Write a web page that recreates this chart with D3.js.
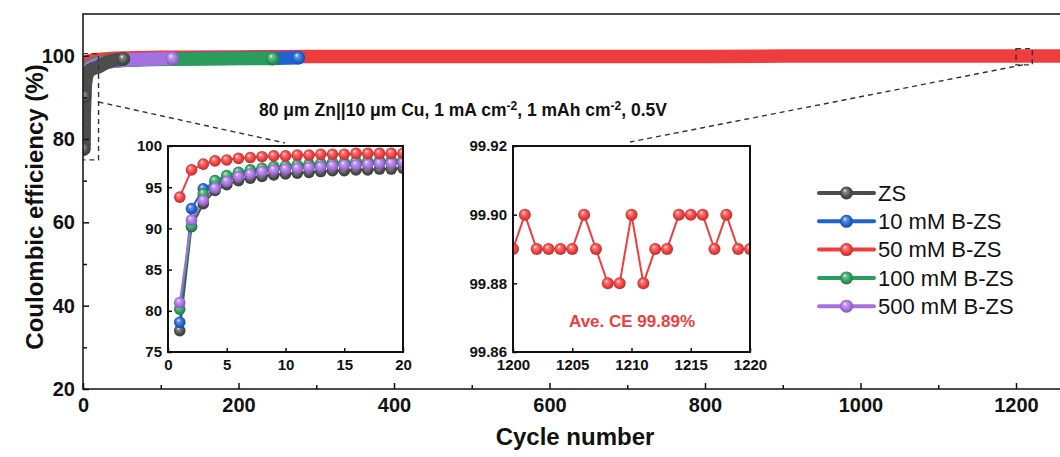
<!DOCTYPE html>
<html>
<head>
<meta charset="utf-8">
<script src="https://cdn.jsdelivr.net/npm/d3@7"></script>
<style>
  body { margin: 0; background: #fff; }
  text { font-family: "Liberation Sans", Arial, sans-serif; }
</style>
</head>
<body>
<svg id="chart" width="1060" height="457"></svg>
<script>
const seriesNames = ['ZS', '10 mM B-ZS', '50 mM B-ZS', '100 mM B-ZS', '500 mM B-ZS'];
const seriesColors = ['#4d4d4d', '#1f63d3', '#ef3d3d', '#2a9d5c', '#a571e0'];

// first 20 cycles (zoomed inset)
const earlyCycles = d3.range(1, 21);
const zsEarly = [77.6, 90.2, 93.0, 94.6, 95.3, 95.8, 96.1, 96.3, 96.5, 96.6, 96.7, 96.8, 96.9, 97.0, 97.0, 97.1, 97.1, 97.2, 97.2, 97.3];
const b10Early = [78.6, 92.4, 94.8, 95.6, 96.1, 96.5, 96.8, 97.0, 97.2, 97.3, 97.4, 97.5, 97.6, 97.7, 97.8, 97.8, 97.9, 97.9, 98.0, 98.0];
const b50Early = [93.8, 97.1, 97.8, 98.2, 98.3, 98.5, 98.6, 98.7, 98.8, 98.8, 98.9, 98.9, 99.0, 99.0, 99.0, 99.1, 99.1, 99.1, 99.1, 99.1];
const b100Early = [80.2, 90.3, 94.2, 95.8, 96.4, 96.8, 97.1, 97.3, 97.5, 97.6, 97.7, 97.8, 97.9, 98.0, 98.0, 98.1, 98.1, 98.2, 98.2, 98.3];
const b500Early = [81.0, 91.0, 93.4, 94.9, 95.7, 96.3, 96.6, 96.9, 97.1, 97.2, 97.3, 97.4, 97.5, 97.6, 97.7, 97.7, 97.8, 97.9, 97.9, 98.0];

// later cycles
const zsLateCycles = [30, 40, 52];
const zsLate = [98.4, 98.9, 99.2];
const b10LateCycles = [40, 80, 150, 250, 277];
const b10Late = [98.8, 99.1, 99.3, 99.4, 99.5];
const b50LateCycles = [40, 100, 200, 300, 400, 500, 600, 700, 800, 900, 1000, 1100, 1200, 1270];
const b50Late = [99.4, 99.6, 99.7, 99.8, 99.8, 99.8, 99.8, 99.8, 99.8, 99.9, 99.9, 99.9, 99.9, 99.9];
const b100LateCycles = [40, 80, 150, 200, 244];
const b100Late = [98.8, 99.1, 99.2, 99.3, 99.3];
const b500LateCycles = [40, 60, 90, 115];
const b500Late = [98.7, 99.0, 99.2, 99.35];

// cycles 1200-1220 of 50 mM B-ZS
const zoomCycles = d3.range(1200, 1221);
const zoomCE = [99.89, 99.90, 99.89, 99.89, 99.89, 99.89, 99.90, 99.89, 99.88, 99.88, 99.90,
  99.88, 99.89, 99.89, 99.90, 99.90, 99.90, 99.89, 99.90, 99.89, 99.89];

const mainXTicks = [0, 200, 400, 600, 800, 1000, 1200];
const mainYTicks = [20, 40, 60, 80, 100];
const inset1XTicks = [0, 5, 10, 15, 20];
const inset1YTicks = [75, 80, 85, 90, 95, 100];
const inset2XTicks = [1200, 1205, 1210, 1215, 1220];
const inset2YTicks = [99.86, 99.88, 99.90, 99.92];

const earlyAll = [zsEarly, b10Early, b50Early, b100Early, b500Early];
const lateCyclesAll = [zsLateCycles, b10LateCycles, b50LateCycles, b100LateCycles, b500LateCycles];
const lateAll = [zsLate, b10Late, b50Late, b100Late, b500Late];

const series = seriesNames.map((name, i) => ({
  name,
  color: seriesColors[i],
  idx: i,
  early: earlyCycles.map((c, j) => [c, earlyAll[i][j]]),
  all: earlyCycles.map((c, j) => [c, earlyAll[i][j]])
    .concat(lateCyclesAll[i].map((c, j) => [c, lateAll[i][j]]))
}));

const svg = d3.select('#chart');
const defs = svg.append('defs');

seriesColors.forEach((c, i) => {
  const g = defs.append('radialGradient').attr('id', 'gloss' + i)
    .attr('cx', '50%').attr('cy', '50%').attr('r', '55%')
    .attr('fx', '36%').attr('fy', '30%');
  g.append('stop').attr('offset', '0%').attr('stop-color', '#fff');
  g.append('stop').attr('offset', '22%').attr('stop-color', d3.interpolateRgb(c, '#fff')(0.35));
  g.append('stop').attr('offset', '65%').attr('stop-color', c);
  g.append('stop').attr('offset', '100%').attr('stop-color', d3.color(c).darker(0.9));
});

// ---------- main panel ----------
const x = d3.scaleLinear().domain([0, 1300]).range([83, 83 + 1300 * 0.7775]);
const y = d3.scaleLinear().domain([20, 110]).range([389, 14]);

defs.append('clipPath').attr('id', 'mainClip').append('rect')
  .attr('x', x(0)).attr('y', y(110)).attr('width', x(1300) - x(0)).attr('height', y(20) - y(110));

const mainLine = d3.line().x(d => x(d[0])).y(d => y(d[1]));
const mainLayer = svg.append('g').attr('clip-path', 'url(#mainClip)');

// 50 mM at the back, ZS on top
[2, 1, 3, 4, 0].forEach(i => {
  const s = series[i];
  mainLayer.append('path')
    .datum(s.all)
    .attr('d', mainLine)
    .attr('fill', 'none')
    .attr('stroke', s.color)
    .attr('stroke-width', 13.5)
    .attr('stroke-linecap', 'round')
    .attr('stroke-linejoin', 'round');
  const shown = [s.all[0], s.all[1], s.all[s.all.length - 1]];
  mainLayer.selectAll(null).data(shown).enter().append('circle')
    .attr('cx', d => x(d[0]))
    .attr('cy', d => y(d[1]))
    .attr('r', 6.8)
    .attr('fill', `url(#gloss${i})`);
});

svg.append('rect')
  .attr('x', x(0)).attr('y', y(110))
  .attr('width', x(1300) - x(0)).attr('height', y(20) - y(110))
  .attr('fill', 'none').attr('stroke', '#111').attr('stroke-width', 1.5);

svg.append('g').attr('transform', `translate(0,${y(20)})`)
  .call(d3.axisBottom(x).tickValues(mainXTicks).tickSizeInner(-6).tickSizeOuter(0)
    .tickPadding(9).tickFormat(d3.format('d')));
svg.append('g').attr('transform', `translate(0,${y(20)})`)
  .call(d3.axisBottom(x).tickValues(d3.range(100, 1300, 200)).tickSizeInner(-4).tickSizeOuter(0).tickFormat(''));
svg.append('g').attr('transform', `translate(${x(0)},0)`)
  .call(d3.axisLeft(y).tickValues(mainYTicks).tickSizeInner(-6).tickSizeOuter(0).tickPadding(8));
svg.append('g').attr('transform', `translate(${x(0)},0)`)
  .call(d3.axisLeft(y).tickValues([30, 50, 70, 90]).tickSizeInner(-4).tickSizeOuter(0).tickFormat(''));

svg.selectAll('.domain').remove();
svg.selectAll('.tick line').attr('stroke', '#111').attr('stroke-width', 1.5);
svg.selectAll('.tick text').attr('fill', '#111')
  .style('font-size', '20px').style('font-weight', 'bold')
  .style('font-family', '"Liberation Sans", Arial, sans-serif');

svg.append('text')
  .attr('transform', 'translate(34,207) rotate(-90)')
  .attr('text-anchor', 'middle').attr('dominant-baseline', 'central')
  .style('font-size', '24px').style('font-weight', 'bold').attr('fill', '#111')
  .text('Coulombic efficiency (%)');
svg.append('text')
  .attr('x', 575).attr('y', 445)
  .attr('text-anchor', 'middle')
  .style('font-size', '24px').style('font-weight', 'bold').attr('fill', '#111')
  .text('Cycle number');

// zoom markers and guide lines
const dash = { stroke: '#333', 'stroke-width': 1.4, 'stroke-dasharray': '5,4', fill: 'none' };
function dashed (sel) {
  Object.entries(dash).forEach(([k, v]) => sel.attr(k, v));
  return sel;
}
dashed(svg.append('rect')
  .attr('x', x(0)).attr('y', y(100.5))
  .attr('width', x(20) - x(0)).attr('height', y(75) - y(100.5)));
dashed(svg.append('rect')
  .attr('x', x(1200)).attr('y', y(101.7))
  .attr('width', x(1221) - x(1200)).attr('height', y(97.8) - y(101.7)));
dashed(svg.append('line')
  .attr('x1', x(20)).attr('y1', 102).attr('x2', 285).attr('y2', 143));
dashed(svg.append('line')
  .attr('x1', x(1209)).attr('y1', y(97.8)).attr('x2', 630).attr('y2', 142));

// condition label
const cond = svg.append('text')
  .attr('x', 463).attr('y', 116).attr('text-anchor', 'middle')
  .style('font-size', '17.5px').style('font-weight', 'bold').attr('fill', '#111');
cond.append('tspan').text('80 \u03bcm Zn||10 \u03bcm Cu, 1 mA cm');
cond.append('tspan').attr('dy', -6).style('font-size', '12px').text('-2');
cond.append('tspan').attr('dy', 6).text(', 1 mAh cm');
cond.append('tspan').attr('dy', -6).style('font-size', '12px').text('-2');
cond.append('tspan').attr('dy', 6).text(', 0.5V');

// ---------- inset helper ----------
function drawInset ({ id, xs, ys, xTicks, yTicks, fmt, list, r }) {
  const [x0, x1] = xs.range();
  const [y0, y1] = ys.range();
  const g = svg.append('g');
  g.append('rect').attr('x', x0).attr('y', y1).attr('width', x1 - x0).attr('height', y0 - y1)
    .attr('fill', '#fff');
  defs.append('clipPath').attr('id', id).append('rect')
    .attr('x', x0).attr('y', y1).attr('width', x1 - x0).attr('height', y0 - y1);
  const body = g.append('g').attr('clip-path', `url(#${id})`);
  const line = d3.line().x(d => xs(d[0])).y(d => ys(d[1]));
  list.forEach(s => {
    body.append('path').datum(s.points).attr('d', line)
      .attr('fill', 'none').attr('stroke', s.color).attr('stroke-width', 2);
  });
  list.forEach(s => {
    body.selectAll(null).data(s.points).enter().append('circle')
      .attr('cx', d => xs(d[0])).attr('cy', d => ys(d[1])).attr('r', r)
      .attr('fill', `url(#gloss${s.idx})`);
  });
  g.append('rect').attr('x', x0).attr('y', y1).attr('width', x1 - x0).attr('height', y0 - y1)
    .attr('fill', 'none').attr('stroke', '#111').attr('stroke-width', 2);
  const ax = g.append('g').attr('transform', `translate(0,${y0})`)
    .call(d3.axisBottom(xs).tickValues(xTicks).tickSizeInner(-4).tickSizeOuter(0)
      .tickPadding(7).tickFormat(d3.format('d')));
  const ay = g.append('g').attr('transform', `translate(${x0},0)`)
    .call(d3.axisLeft(ys).tickValues(yTicks).tickSizeInner(-4).tickSizeOuter(0).tickPadding(6).tickFormat(fmt));
  [ax, ay].forEach(a => {
    a.select('.domain').remove();
    a.selectAll('.tick line').attr('stroke', '#111').attr('stroke-width', 1.5);
    a.selectAll('.tick text').attr('fill', '#111')
      .style('font-size', '15px').style('font-weight', 'bold')
      .style('font-family', '"Liberation Sans", Arial, sans-serif');
  });
  return g;
}

const ix = d3.scaleLinear().domain([0, 20]).range([168, 403]);
const iy = d3.scaleLinear().domain([75, 100]).range([352, 146]);
drawInset({
  id: 'clip1', xs: ix, ys: iy, xTicks: inset1XTicks, yTicks: inset1YTicks, fmt: d3.format('d'), r: 5.8,
  list: [0, 1, 3, 4, 2].map(i => ({ color: series[i].color, idx: i, points: series[i].early }))
});

const jx = d3.scaleLinear().domain([1200, 1220]).range([513, 750]);
const jy = d3.scaleLinear().domain([99.86, 99.92]).range([352, 146]);
const inset2 = drawInset({
  id: 'clip2', xs: jx, ys: jy, xTicks: inset2XTicks, yTicks: inset2YTicks, fmt: d3.format('.2f'), r: 6,
  list: [{ color: seriesColors[2], idx: 2, points: zoomCycles.map((c, j) => [c, zoomCE[j]]) }]
});
inset2.append('text')
  .attr('x', 632).attr('y', 327).attr('text-anchor', 'middle')
  .style('font-size', '17px').style('font-weight', 'bold').attr('fill', seriesColors[2])
  .text('Ave. CE 99.89%');

// ---------- legend ----------
const legend = svg.append('g').attr('transform', 'translate(819,193)');
const rows = legend.selectAll('g').data(series).enter().append('g')
  .attr('transform', (d, i) => `translate(0,${i * 28.3})`);
rows.append('line').attr('x1', 0).attr('x2', 55)
  .attr('stroke', d => d.color).attr('stroke-width', 4).attr('stroke-linecap', 'round');
rows.append('circle').attr('cx', 27.5).attr('r', 6.5).attr('fill', d => `url(#gloss${d.idx})`);
rows.append('text').attr('x', 59).attr('y', 7.8)
  .style('font-size', '22px').attr('fill', '#111')
  .text(d => d.name);
</script>
</body>
</html>
